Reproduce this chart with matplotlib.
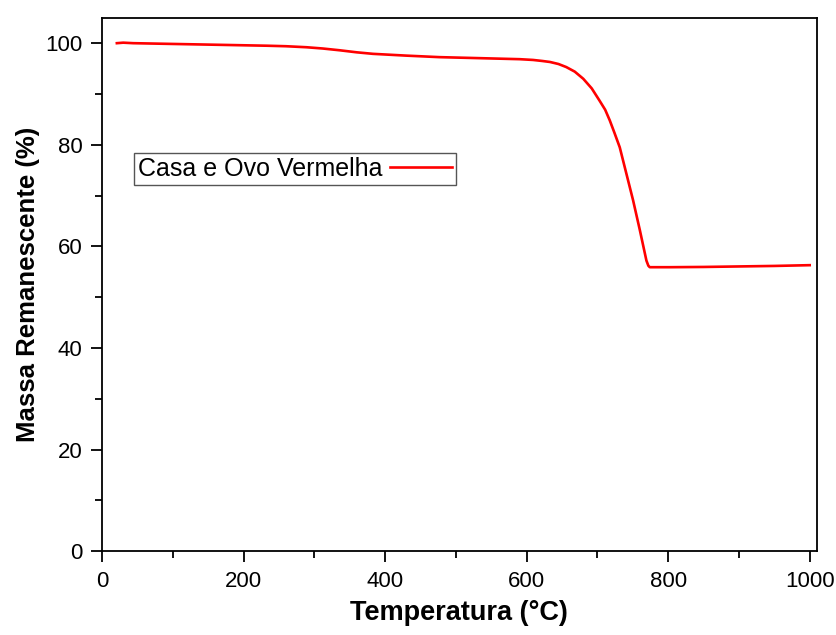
import matplotlib
matplotlib.use('Agg')
import matplotlib.pyplot as plt
from matplotlib.ticker import MultipleLocator

plt.rcParams['font.family'] = ['Liberation Sans', 'DejaVu Sans']

# temperature (C) and remaining mass (%)
temp = [21, 30, 44, 100, 138, 195, 233, 260, 289, 312, 336, 360, 383, 430, 477,
        520, 562, 590, 609, 622, 633, 645, 656, 668, 680, 692, 703, 711, 717.5,
        724, 731.6, 741, 750.4, 760, 769.3, 772, 774, 802, 850, 900, 950, 1000]
mass = [100.0, 100.1, 100.0, 99.85, 99.75, 99.6, 99.5, 99.4, 99.2, 98.95, 98.6,
        98.2, 97.9, 97.55, 97.25, 97.1, 96.95, 96.85, 96.7, 96.5, 96.3, 95.9,
        95.3, 94.4, 93.0, 91.1, 88.7, 86.9, 84.8, 82.4, 79.5, 74.3, 69.1, 63.2,
        57.2, 56.2, 55.9, 55.9, 55.95, 56.05, 56.15, 56.3]

fig = plt.figure(figsize=(8.36, 6.35), dpi=100)
ax = fig.add_axes([0.122, 0.132, 0.855, 0.840])

ax.plot(temp, mass, color='#ff0000', lw=1.9, label='Casa e Ovo Vermelha')

ax.set_xlim(0, 1010)
ax.set_ylim(0, 105)
ax.xaxis.set_major_locator(MultipleLocator(200))
ax.xaxis.set_minor_locator(MultipleLocator(100))
ax.yaxis.set_major_locator(MultipleLocator(20))
ax.yaxis.set_minor_locator(MultipleLocator(10))
ax.tick_params(which='major', direction='out', length=8, width=1.3, labelsize=16, pad=6)
ax.tick_params(which='minor', direction='out', length=5, width=1.3)
for s in ax.spines.values():
    s.set_linewidth(1.3)

ax.set_xlabel('Temperatura (°C)', fontsize=19.5, fontweight='bold', labelpad=6)
ax.set_ylabel('Massa Remanescente (%)', fontsize=18.5, fontweight='bold', labelpad=4)

leg = ax.legend(loc='upper left', bbox_to_anchor=(0.045, 0.746), markerfirst=False,
                fontsize=18, fancybox=False, framealpha=1, handlelength=2.5,
                borderpad=0.15, handletextpad=0.3, borderaxespad=0)
leg.get_frame().set_edgecolor('#555555')
leg.get_frame().set_linewidth(1.0)

fig.savefig('out.png', dpi=100)
